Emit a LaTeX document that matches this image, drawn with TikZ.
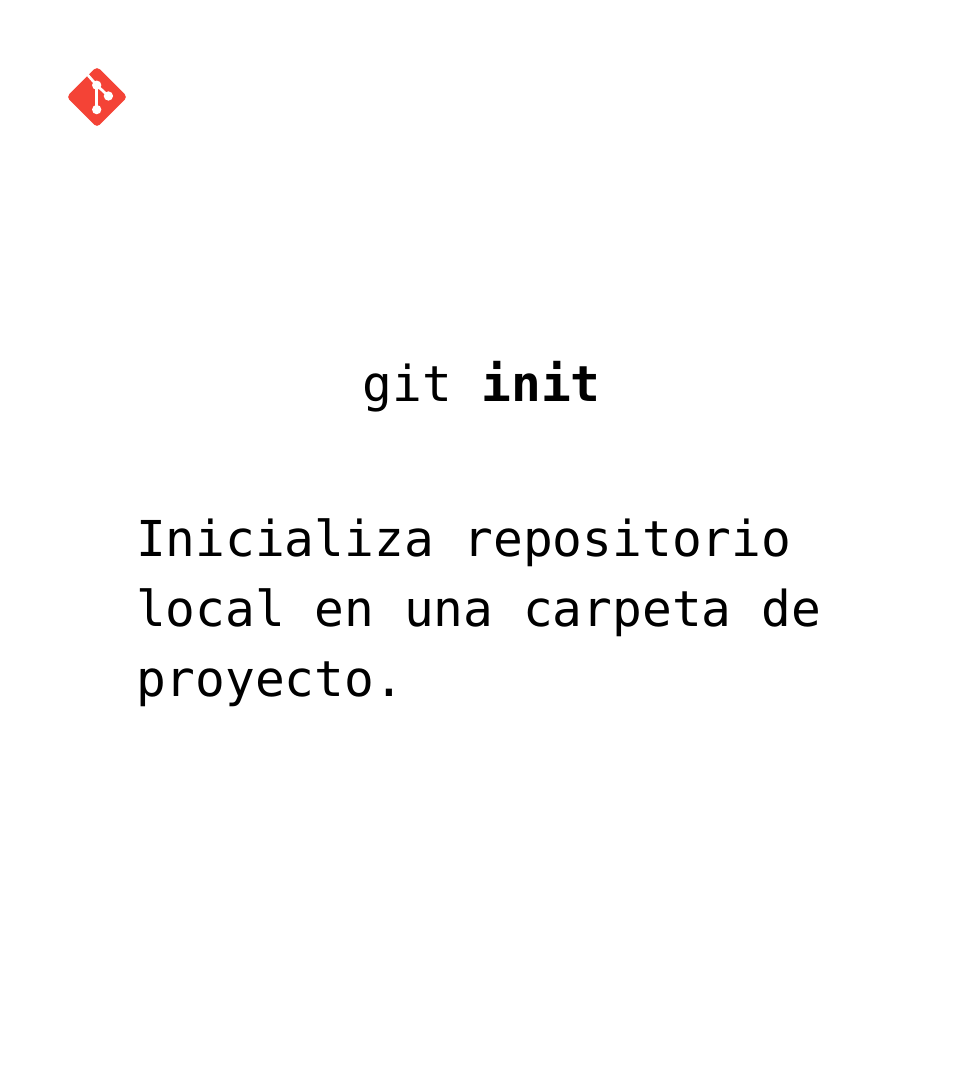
\documentclass[tikz,border=0pt]{standalone}
\usepackage{fontspec}
\setmonofont{DejaVu Sans Mono}
\definecolor{gitred}{HTML}{F44336}
\tikzset{
  txt/.style={anchor=base west,inner sep=0pt,outer sep=0pt,font=\fontsize{37.1}{37.1}\selectfont\ttfamily,text=black},
  gitlink/.style={draw=white,line width=2pt,line cap=butt},
  gitdot/.style={circle,fill=white,inner sep=0pt,minimum size=7pt}
}
\begin{document}
\begin{tikzpicture}[x=0.75pt,y=-0.75pt]
\useasboundingbox (0,0) rectangle (960,1080);
\fill[white] (0,0) rectangle (960,1080);
\fill[gitred,rounded corners=3pt] (97,66.5) -- (127.5,97) -- (97,127.5) -- (66.5,97) -- cycle;
\coordinate (edge) at (86,73);
\node[gitdot] (top) at (96.7,85.2) {};
\node[gitdot] (right) at (108.4,96) {};
\node[gitdot] (bottom) at (96.7,109.6) {};
\draw[gitlink] (edge) -- (top.center);
\draw[gitlink] (top.center) -- (right.center);
\draw[gitlink] (top.center) -- (bottom.center);
\node[txt] (title) at (362.5,401.5) {git \textbf{init}};
\node[txt] (l1) at (136,556) {Inicializa repositorio};
\node[txt] (l2) at (136,626) {local en una carpeta de};
\node[txt] (l3) at (136,696) {proyecto.};
\end{tikzpicture}
\end{document}
